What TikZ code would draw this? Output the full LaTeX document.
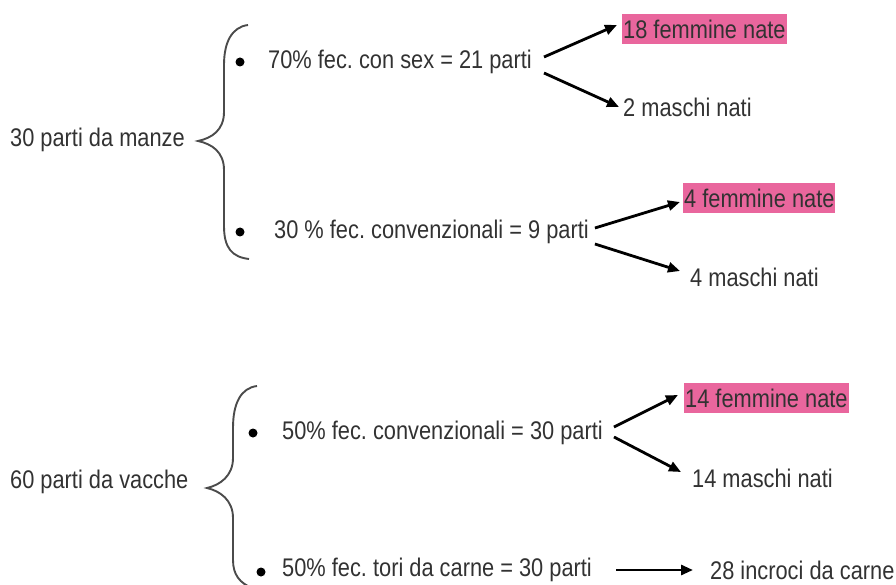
\documentclass[tikz,border=0pt]{standalone}
\usepackage{fontspec}
\setmainfont{Liberation Sans}[FakeStretch=0.855]
\usetikzlibrary{arrows.meta}
\definecolor{txt}{RGB}{50,50,50}
\definecolor{hl}{RGB}{233,102,157}
\definecolor{bracecol}{RGB}{75,75,75}
\begin{document}
\frenchspacing
\begin{tikzpicture}[x=1pt,y=-1pt,
  lbl/.style={anchor=west,inner sep=0pt,text=txt,font=\fontsize{25.5}{28}\selectfont\frenchspacing},
  hlbox/.style={lbl,fill=hl,inner xsep=1pt,minimum height=30pt},
  dot/.style={circle,fill=black,inner sep=0pt,minimum size=9pt},
  arr/.style={line width=2.8pt,-{Triangle[length=12pt,width=10pt]}},
  bracestyle/.style={draw=bracecol,line width=1.9pt}]
\useasboundingbox (0,0) rectangle (896,585);

% ---- upper group ----
\node[lbl] (manze) at (10,140) {30 parti da manze};
\draw[bracestyle] (248,25) .. controls (232,27) and (224,42) .. (224,65) -- (224,112)
  .. controls (224,130) and (212,138) .. (198,141)
  .. controls (212,144) and (224,152) .. (224,170) -- (224,226)
  .. controls (224,248) and (232,257) .. (249,259);
\node[dot] (b1) at (240,62) {};
\node[lbl] (t1) at (268,62) {70\% fec. con sex = 21 parti};
\node[dot] (b2) at (240,232) {};
\node[lbl] (t2) at (274,232) {30 \% fec. convenzionali = 9 parti};

\node[hlbox] (f1) at (622,29) {18 femmine nate};
\node[lbl] (m1) at (623,107) {2 maschi nati};
\node[hlbox] (f2) at (683,198) {4 femmine nate};
\node[lbl] (m2) at (690,277) {4 maschi nati};

\draw[arr] ([xshift=12pt,yshift=5pt]t1.east) -- ([xshift=-5pt,yshift=4pt]f1.west);
\draw[arr] ([xshift=12pt,yshift=-11pt]t1.east) -- ([xshift=-4pt,yshift=0pt]m1.west);
\draw[arr] ([xshift=6pt,yshift=4pt]t2.east) -- ([xshift=-3pt,yshift=-4pt]f2.west);
\draw[arr] ([xshift=6pt,yshift=-12pt]t2.east) -- ([xshift=-10pt,yshift=6pt]m2.west);

% ---- lower group ----
\node[lbl] (vacche) at (10,482) {60 parti da vacche};
\draw[bracestyle] (257,386) .. controls (241,388) and (233,403) .. (233,428) -- (233,458)
  .. controls (233,476) and (220,485) .. (207,488)
  .. controls (220,491) and (233,500) .. (233,518) -- (233,560)
  .. controls (233,575) and (240,583) .. (252,588);
\node[dot] (b3) at (253,433) {};
\node[lbl] (t3) at (282,433) {50\% fec. convenzionali = 30 parti};
\node[dot] (b4) at (261,572) {};
\node[lbl] (t4) at (282,570) {50\% fec. tori da carne = 30 parti};

\node[hlbox] (f3) at (684,398) {14 femmine nate};
\node[lbl] (m3) at (692,478) {14 maschi nati};
\node[lbl] (c4) at (710,570) {28 incroci da carne};

\draw[arr] ([xshift=11pt,yshift=6pt]t3.east) -- ([xshift=-6pt,yshift=3pt]f3.west);
\draw[arr] ([xshift=11pt,yshift=-4pt]t3.east) -- ([xshift=-11pt,yshift=6pt]m3.west);
\draw[arr] ([xshift=24pt]t4.east) -- ([xshift=-17pt]c4.west);
\end{tikzpicture}
\end{document}
